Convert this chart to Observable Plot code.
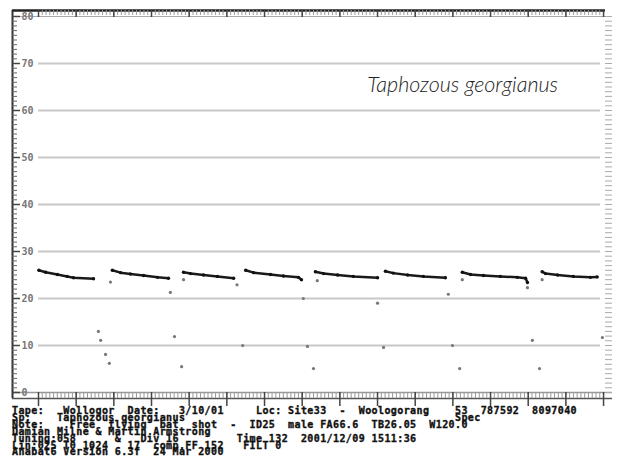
<!DOCTYPE html>
<html><head><meta charset="utf-8">
<script src="https://cdn.jsdelivr.net/npm/d3@7"></script>
<script src="https://cdn.jsdelivr.net/npm/@observablehq/plot@0.6"></script>
<style>
body{margin:0;background:#fff;}
#wrap{position:relative;width:618px;height:457px;overflow:hidden;background:#fff;}
#info{position:absolute;left:12px;top:408px;font:bold 10px "DejaVu Sans Mono",monospace;letter-spacing:0.4px;line-height:6.9px;white-space:pre;color:#111;-webkit-text-stroke:0.35px #111;}
</style></head><body><div id="wrap"><div id="chart"></div><div id="info"></div></div>
<script>
// ---- data (time in axis divisions, frequency in kHz) ----
const call1 = [[0.01,26.0],[0.19,25.6],[0.50,25.1],[0.76,24.7],[0.93,24.4],[1.46,24.2]];
const call2 = [[1.96,26.0],[2.18,25.5],[2.44,25.2],[2.79,24.9],[3.16,24.5],[3.45,24.3]];
const call3 = [[3.85,25.6],[4.04,25.3],[4.38,25.0],[4.75,24.7],[5.18,24.3]];
const call4 = [[5.50,26.0],[5.71,25.5],[6.16,25.1],[6.50,24.8],[6.90,24.5],[6.98,24.0]];
const call5 = [[7.35,25.7],[7.57,25.3],[7.94,25.0],[8.36,24.7],[9.00,24.4]];
const call6 = [[9.21,25.8],[9.42,25.4],[9.80,25.0],[10.22,24.7],[10.80,24.4]];
const call7 = [[11.25,25.6],[11.47,25.1],[11.81,24.9],[12.26,24.7],[12.71,24.5],[12.93,24.3],[12.98,23.4]];
const call8 = [[13.37,25.7],[13.46,25.3],[13.78,25.0],[14.20,24.7],[14.65,24.5],[14.83,24.6]];
const strayT = [1.59,1.65,1.78,1.88,1.91,3.50,3.61,3.80,3.85,5.27,5.42,7.03,7.14,7.30,7.40,9.00,9.16,10.88,10.99,11.18,11.25,12.98,13.11,13.30,13.37,14.97];
const strayF = [13.0,11.1,8.1,6.2,23.5,21.3,11.9,5.5,24.0,22.9,10.0,20.0,9.8,5.1,23.8,19.0,9.6,20.9,10.0,5.1,24.0,22.3,11.1,5.1,24.0,11.7];
const gridFreqs = [10,20,30,40,50,60,70];
const labelFreqs = [0,10,20,30,40,50,60,70,80];
const timeTicks = [0,1,2,3,4,5,6,7,8,9,10,11,12,13,14,15];
const species = "Taphozous georgianus";
const infoLines = [
  "Tape:   Wollogor  Date:   3/10/01     Loc: Site33  -  Woologorang    53  787592  8097040",
  "Sp:    Taphozous georgianus                                          Spec",
  "Note:    Free  flying  bat  shot  -  ID25  male FA66.6  TB26.05  W120.0",
  "Damian Milne & Martin Armstrong",
  "Tuning:058      &   Div 16         Time 132  2001/12/09 1511:36",
  "Lin:025 T0 1024   17  comp.FF 152   FILT 0",
  "Anabat6 Version 6.3f  24 Mar 2000"
];

// ---- build tables ----
const calls = [call1,call2,call3,call4,call5,call6,call7,call8];
const callRows = calls.flatMap((c,i)=>c.map(([t,f])=>({t,f,call:i})));
const strayRows = strayT.map((t,i)=>({t,f:strayF[i]}));
const minorF = d3.range(0,81,1);
const minorT = d3.range(0,15.01,0.1);

const W=618,H=410,ML=12,MR=6,MT=10,MB=12;
const fw=W-ML-MR, fh=H-MT-MB;
const pxT=37.67, pxF=4.7;
const X0=-(38-ML)/pxT, X1=(W-MR-38)/pxT, XEND=(605-38)/pxT, XGRID=(600-38)/pxT;
const Y0=-(H-MB-392)/pxF, Y1=80+(392-MT-80*pxF)/pxF;

const chart = Plot.plot({
  width:W, height:H, marginLeft:ML, marginRight:MR, marginTop:MT, marginBottom:MB,
  x:{domain:[X0,X1], axis:null},
  y:{domain:[Y0,Y1], axis:null},
  style:{background:"white", overflow:"visible"},
  marks:[
    Plot.ruleY(gridFreqs, {x1:0, x2:XGRID, stroke:"#c8c8c8", strokeWidth:2}),
    Plot.ruleY([80], {x1:X0, x2:XEND, stroke:"#aaa", strokeWidth:1}),
    Plot.ruleY([0], {x1:X0, x2:X1, stroke:"#999", strokeWidth:1.5}),
    Plot.ruleY([Y0], {x1:X0, x2:X1, stroke:"#555", strokeWidth:1.5}),
    Plot.ruleY([Y1], {x1:X0, x2:XEND, stroke:"#222", strokeWidth:2.5}),
    Plot.ruleX([X0], {stroke:"#333", strokeWidth:2}),
    Plot.tickY(minorF, {insetRight:fw-5, stroke:"#666"}),
    Plot.tickY(labelFreqs, {insetRight:fw-8, stroke:"#444", strokeWidth:1.5}),
    Plot.tickY(minorF, {insetLeft:fw-7, stroke:"#aaa"}),
    Plot.tickX(minorT, {insetBottom:fh-5, stroke:"#999"}),
    Plot.tickX(timeTicks, {insetBottom:fh-7, stroke:"#444", strokeWidth:1.5}),
    Plot.tickX(minorT, {insetTop:fh-6, stroke:"#999"}),
    Plot.tickX(timeTicks, {insetTop:fh-6, insetBottom:-8, stroke:"#444", strokeWidth:1.5}),
    Plot.text(labelFreqs, {y:d=>d, frameAnchor:"left", dx:9, textAnchor:"start", text:d=>String(d),
      fontFamily:"DejaVu Sans Mono", fontWeight:"bold", fontSize:10, fill:"#777"}),
    Plot.line(callRows, {x:"t", y:"f", z:"call", stroke:"#1a1a1a", strokeWidth:2.5}),
    Plot.dot(callRows, {x:"t", y:"f", r:1.7, fill:"#111"}),
    Plot.dot(strayRows, {x:"t", y:"f", r:1.6, fill:"#777"}),
    Plot.text([species], {x:11.26, y:65.3, text:d=>d, textAnchor:"middle", lineAnchor:"middle",
      fontFamily:"Lato", fontStyle:"italic", fontWeight:300, fontSize:21.5, fill:"#222"})
  ]
});
document.getElementById("chart").append(chart);
document.getElementById("info").textContent = infoLines.join("\n");
</script></body></html>
